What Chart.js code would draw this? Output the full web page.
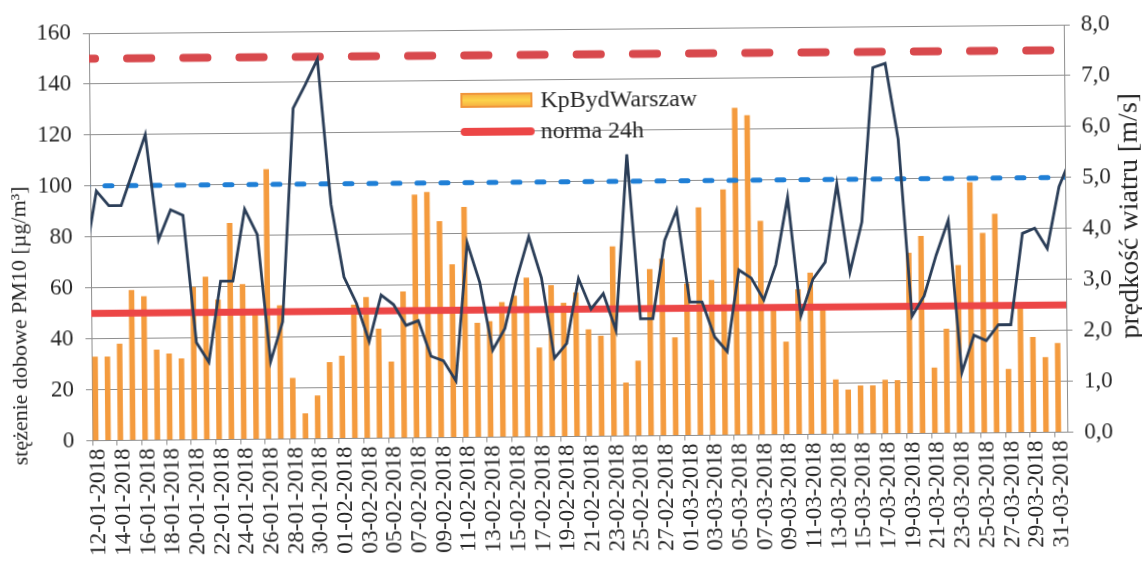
<!DOCTYPE html>
<html lang="pl">
<head>
<meta charset="utf-8">
<title>PM10 KpBydWarszaw</title>
<script src="https://cdn.jsdelivr.net/npm/chart.js@4.4.1/dist/chart.umd.min.js"></script>
<style>
  html, body { margin: 0; padding: 0; background: #fff; overflow: hidden; }
  /* the source is a slightly skewed scan, so the whole figure is tilted a bit */
  .chart-wrap {
    position: relative; width: 1142px; height: 564px;
    transform: rotate(-0.5deg);
  }
  .legend {
    position: absolute; left: 462px; top: 84px;
    font-family: "Liberation Serif", "Times New Roman", serif;
    font-size: 24px; color: #262626;
  }
  .legend-row { display: flex; align-items: center; height: 31px; }
  .legend-bar {
    width: 68px; height: 11px; margin-right: 8px;
    border: 2px solid #f0963c;
    background: linear-gradient(#f7b443, #fcd34b, #f7b443);
  }
  .legend-line {
    width: 74px; height: 8px; margin-right: 6px;
    border-radius: 4px; background: #ec4646;
  }
</style>
</head>
<body>
<div class="chart-wrap">
  <canvas id="pmChart"></canvas>
  <div class="legend">
    <div class="legend-row"><span class="legend-bar"></span>KpBydWarszaw</div>
    <div class="legend-row"><span class="legend-line"></span>norma 24h</div>
  </div>
</div>
<script>
const pmCtx = document.getElementById("pmChart");

const dayLabels = [
  "12-01-2018", "13-01-2018", "14-01-2018", "15-01-2018", "16-01-2018",
  "17-01-2018", "18-01-2018", "19-01-2018", "20-01-2018", "21-01-2018",
  "22-01-2018", "23-01-2018", "24-01-2018", "25-01-2018", "26-01-2018",
  "27-01-2018", "28-01-2018", "29-01-2018", "30-01-2018", "31-01-2018",
  "01-02-2018", "02-02-2018", "03-02-2018", "04-02-2018", "05-02-2018",
  "06-02-2018", "07-02-2018", "08-02-2018", "09-02-2018", "10-02-2018",
  "11-02-2018", "12-02-2018", "13-02-2018", "14-02-2018", "15-02-2018",
  "16-02-2018", "17-02-2018", "18-02-2018", "19-02-2018", "20-02-2018",
  "21-02-2018", "22-02-2018", "23-02-2018", "24-02-2018", "25-02-2018",
  "26-02-2018", "27-02-2018", "28-02-2018",
  "01-03-2018", "02-03-2018", "03-03-2018", "04-03-2018", "05-03-2018",
  "06-03-2018", "07-03-2018", "08-03-2018", "09-03-2018", "10-03-2018",
  "11-03-2018", "12-03-2018", "13-03-2018", "14-03-2018", "15-03-2018",
  "16-03-2018", "17-03-2018", "18-03-2018", "19-03-2018", "20-03-2018",
  "21-03-2018", "22-03-2018", "23-03-2018", "24-03-2018", "25-03-2018",
  "26-03-2018", "27-03-2018", "28-03-2018", "29-03-2018", "30-03-2018",
  "31-03-2018",
];

// daily PM10 concentration [µg/m3]
const pm10Values = [
  33, 33, 38, 59, 56.5, 35.5, 34, 32, 60, 64,
  55, 85, 61, 50, 106, 52.5, 24, 10, 17, 30,
  32.5, 52.5, 55.5, 43, 30, 57.5, 95.5, 96.5, 85, 68,
  90.5, 45, 45.5, 53, 55.5, 62.5, 35, 59.5, 52.5, 56.5,
  42, 39.5, 74.5, 21, 29.5, 65.5, 69.5, 38.6,
  59.7, 89.5, 61, 96.5, 128.5, 125.5, 84, 51, 36.5, 57,
  63.5, 50, 21.5, 17.5, 19, 19, 21.2, 21, 71, 77.5,
  25.8, 41, 66, 98.5, 78.5, 86, 25, 50, 37.5, 29.5,
  35,
];

// wind speed [m/s]
const windValues = [
  4.9, 4.61, 4.61, 5.3, 6.0, 3.93, 4.52, 4.41, 1.91, 1.52,
  3.11, 3.11, 4.52, 4.02, 1.52, 2.3, 6.49, 6.95, 7.45, 4.6,
  3.17, 2.65, 1.9, 2.81, 2.62, 2.21, 2.3, 1.6, 1.51, 1.11,
  3.82, 3.04, 1.71, 2.13, 3.11, 3.93, 3.12, 1.54, 1.83, 3.1,
  2.5, 2.8, 2.08, 5.53, 2.3, 2.3, 3.83, 4.43,
  2.62, 2.62, 1.93, 1.64, 3.24, 3.08, 2.65, 3.34, 4.66, 2.33,
  3.05, 3.38, 4.91, 3.18, 4.16, 7.19, 7.27, 5.78, 2.3, 2.7,
  3.5, 4.18, 1.19, 1.92, 1.81, 2.12, 2.12, 3.91, 4.01, 3.61,
  4.82,
];

// wind on 11-01 and 01-04: only the cut-off segments at the plot edges show them
const windOutside = [3.5, 5.4];

// reference levels [µg/m3]
const norm24h = 50;
const level100 = 100;
const level150 = 150;

const pmTicks = { min: 0, max: 160, step: 20 };
const windTicks = { min: 0, max: 8, step: 1 };

const serif = '"Liberation Serif", "Times New Roman", serif';
const textColor = "#262626";
const gridColor = "#8e8e8e";

const leftTitle = "stężenie dobowe PM10 [µg/m³]";
const rightTitle = "prędkość wiatru [m/s]";

// day index positions one step before the first and after the last day
const beforeFirst = -1;
const afterLast = dayLabels.length;

const windPoints = [
  { x: beforeFirst, y: windOutside[0] },
  ...windValues.map((y, x) => ({ x, y })),
  { x: afterLast, y: windOutside[1] },
];

// horizontal reference line across the whole plot
const levelLine = (value) => [
  { x: beforeFirst, y: value },
  { x: afterLast, y: value },
];

// both axis titles read bottom-to-top, which Chart.js does not do on the right
const axisTitlesPlugin = {
  id: "axisTitles",
  afterDraw(chart) {
    const { ctx, chartArea } = chart;
    ctx.save();
    ctx.fillStyle = textColor;
    ctx.textBaseline = "middle";
    ctx.font = `22px ${serif}`;
    ctx.textAlign = "left";
    ctx.translate(20, chartArea.bottom + 24);
    ctx.rotate(-Math.PI / 2);
    ctx.fillText(leftTitle, 0, 0);
    ctx.restore();

    ctx.save();
    ctx.fillStyle = textColor;
    ctx.textBaseline = "middle";
    ctx.font = `28px ${serif}`;
    ctx.textAlign = "center";
    ctx.translate(chart.width - 11, (chartArea.top + chartArea.bottom) / 2 - 12);
    ctx.rotate(-Math.PI / 2);
    ctx.fillText(rightTitle, 0, 0);
    ctx.restore();
  },
};

const buildChart = () => {
  if (!pmCtx) {
    return;
  }

  new Chart(pmCtx, {
    data: {
      labels: dayLabels,
      datasets: [
        {
          type: "bar",
          label: "KpBydWarszaw",
          data: pm10Values,
          xAxisID: "x",
          yAxisID: "y",
          backgroundColor: "#f49b3e",
          borderWidth: 0,
          categoryPercentage: 0.9,
          barPercentage: 1,
          order: 3,
        },
        {
          type: "line",
          label: "norma 24h",
          data: levelLine(norm24h),
          xAxisID: "xLine",
          yAxisID: "y",
          borderColor: "#ec4646",
          borderWidth: 7,
          pointRadius: 0,
          order: 2,
        },
        {
          type: "line",
          label: "100",
          data: levelLine(level100),
          xAxisID: "xLine",
          yAxisID: "y",
          borderColor: "#1f7fd6",
          borderWidth: 5,
          borderDash: [7, 17],
          borderDashOffset: 3,
          borderCapStyle: "round",
          pointRadius: 0,
          order: 2,
        },
        {
          type: "line",
          label: "150",
          data: levelLine(level150),
          xAxisID: "xLine",
          yAxisID: "y",
          borderColor: "#d8494d",
          borderWidth: 8,
          borderDash: [24.2, 32],
          borderDashOffset: 12,
          borderCapStyle: "round",
          pointRadius: 0,
          order: 2,
        },
        {
          type: "line",
          label: "prędkość wiatru",
          data: windPoints,
          xAxisID: "xLine",
          yAxisID: "y1",
          borderColor: "#2b3e58",
          borderWidth: 2.8,
          pointRadius: 0,
          tension: 0,
          order: 0,
        },
      ],
    },
    options: {
      responsive: true,
      maintainAspectRatio: false,
      animation: false,
      layout: {
        padding: { top: 29, left: 0, right: 0, bottom: 0 },
      },
      plugins: {
        legend: { display: false },
        tooltip: { enabled: false },
      },
      scales: {
        x: {
          type: "category",
          offset: true,
          afterFit: (scale) => {
            scale.height = 127.5;
          },
          ticks: {
            autoSkip: false,
            minRotation: 90,
            maxRotation: 90,
            padding: 3,
            color: textColor,
            font: { family: serif, size: 23 },
            callback: function (value, index) {
              return index % 2 === 0 ? this.getLabelForValue(value) : "";
            },
          },
          grid: {
            offset: true,
            drawOnChartArea: false,
            tickLength: 5,
            color: (ctx) => (ctx.index % 2 === 0 ? gridColor : "transparent"),
          },
          border: { display: true, color: gridColor },
        },
        // same day positions as the bars, but lines may run past the edges
        xLine: {
          type: "linear",
          display: false,
          bounds: "data",
          min: -0.5,
          max: dayLabels.length - 0.5,
        },
        y: {
          position: "left",
          min: pmTicks.min,
          max: pmTicks.max,
          afterFit: (scale) => {
            scale.width = 91;
          },
          ticks: {
            stepSize: pmTicks.step,
            padding: 12,
            color: textColor,
            font: { family: serif, size: 23 },
          },
          grid: { color: gridColor, tickLength: 6 },
          border: { display: true, color: gridColor },
        },
        y1: {
          position: "right",
          min: windTicks.min,
          max: windTicks.max,
          afterFit: (scale) => {
            scale.width = 76;
          },
          ticks: {
            stepSize: windTicks.step,
            padding: 11,
            color: textColor,
            font: { family: serif, size: 23 },
            callback: (value) => value.toFixed(1).replace(".", ","),
          },
          grid: { drawOnChartArea: false, color: gridColor, tickLength: 6 },
          border: { display: true, color: gridColor },
        },
      },
    },
    plugins: [axisTitlesPlugin],
  });
};

document.addEventListener("DOMContentLoaded", () => {
  buildChart();
});
</script>
</body>
</html>
